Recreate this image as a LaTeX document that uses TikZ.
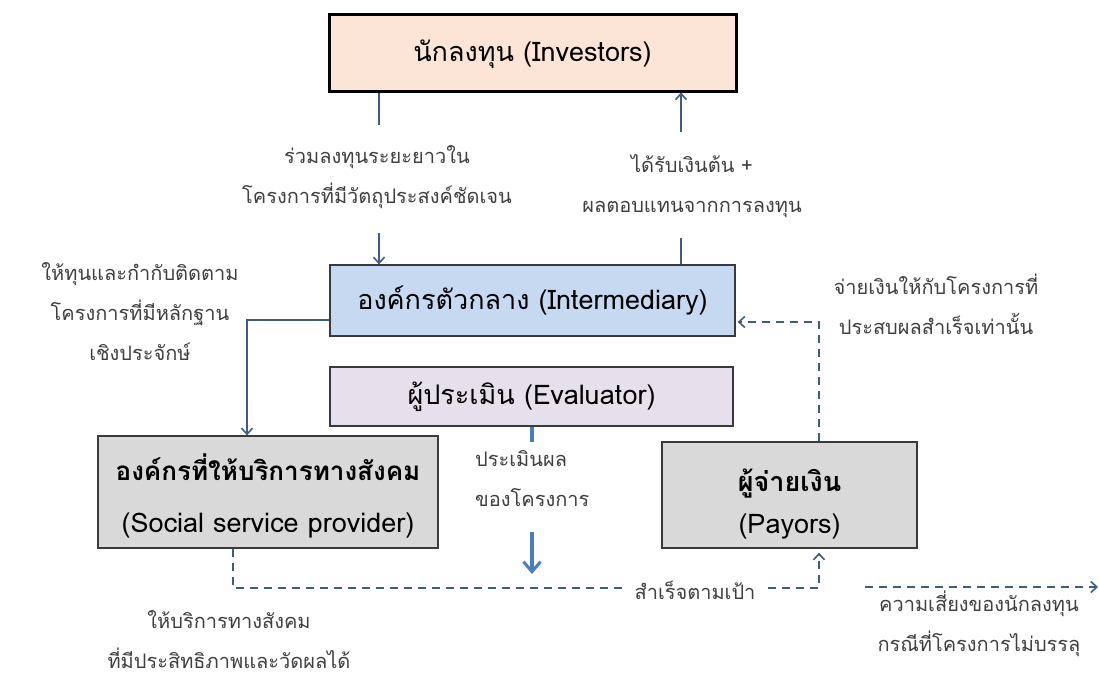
\documentclass[tikz,border=0pt]{standalone}
\usepackage{fontspec}
\setmainfont[Script=Thai]{Loma}
\usetikzlibrary{arrows.meta}
\definecolor{conncol}{HTML}{3E5C86}
\definecolor{thickcol}{HTML}{4A7DBD}
\definecolor{invfill}{HTML}{FCE4D6}
\definecolor{midfill}{HTML}{C6D9F0}
\definecolor{evafill}{HTML}{E5E0EC}
\definecolor{grayfill}{HTML}{D9D9D9}
\definecolor{boxline}{HTML}{3A3A3A}
\definecolor{lblcol}{HTML}{3F3F3F}
\tikzset{
  box/.style={draw=boxline, line width=1.3pt, inner sep=0pt, align=center, text=black,
    font=\fontsize{27}{52}\selectfont},
  lbl/.style={inner sep=0pt, align=center, text=lblcol, font=\fontsize{20}{40}\selectfont},
  conn/.style={draw=conncol, line width=1.8pt},
  tip/.style={-{Straight Barb[length=6pt,width=11pt,line width=1.6pt]}},
  dconn/.style={conn, dash pattern=on 8pt off 6pt},
  thickarrow/.style={draw=thickcol, line width=3.5pt, -{Straight Barb[length=10pt,width=17pt,line width=3pt]}}
}
\begin{document}
\begin{tikzpicture}[x=1pt,y=-1pt]
\useasboundingbox (0,0) rectangle (1099,681);
% boxes
\node[box, fill=invfill, draw=black, line width=3pt, minimum width=407pt, minimum height=77pt] (inv) at (532.5,52.5) {\rule{0pt}{26pt}นักลงทุน (Investors)};
\node[box, fill=midfill, minimum width=405pt, minimum height=71pt] (mid) at (532.5,300.5) {องค์กรตัวกลาง (Intermediary)};
\node[box, fill=evafill, minimum width=403pt, minimum height=59pt] (eva) at (531.5,396.5) {ผู้ประเมิน (Evaluator)};
\node[box, fill=grayfill, minimum width=340pt, minimum height=112pt] (ssp) at (268,492) {\rule{0pt}{34pt}{\bfseries\fontsize{26}{52}\selectfont องค์กรที่ให้บริการทางสังคม}\\(Social service provider)};
\node[box, fill=grayfill, minimum width=255pt, minimum height=106pt, font=\fontsize{27}{42}\selectfont] (pay) at (789.5,495) {\rule{0pt}{40pt}{\bfseries ผู้จ่ายเงิน}\\(Payors)};
% labels
\node[lbl] (l1) at (377,177) {ร่วมลงทุนระยะยาวใน\\โครงการที่มีวัตถุประสงค์ชัดเจน};
\node[lbl] (l2) at (692,186) {ได้รับเงินต้น +\\ผลตอบแทนจากการลงทุน};
\node[lbl] (l3) at (140,312) {ให้ทุนและกำกับติดตาม\\โครงการที่มีหลักฐาน\\เชิงประจักษ์};
\node[lbl] (l4) at (936,304) {จ่ายเงินให้กับโครงการที่\\ประสบผลสำเร็จเท่านั้น};
\node[lbl, align=left, anchor=west] (l5) at (475,479) {ประเมินผล\\ของโครงการ};
\node[lbl] (l6) at (695,590) {สำเร็จตามเป้า};
\node[lbl] (l7) at (229,640) {ให้บริการทางสังคม\\ที่มีประสิทธิภาพและวัดผลได้};
\node[lbl] (l8) at (979,624) {ความเสี่ยงของนักลงทุน\\กรณีที่โครงการไม่บรรลุ};
% helper coordinates
\coordinate (a1) at (379,125);
\coordinate (a2) at (379,233);
\coordinate (b1) at (681,238);
\coordinate (b2) at (681,132);
\coordinate (c1) at (247,320);
\coordinate (d1) at (532,442);
\coordinate (d2) at (532,532);
\coordinate (d3) at (532,574);
\coordinate (e1) at (233,588);
\coordinate (e2) at (626,588);
\coordinate (e3) at (768,588);
\coordinate (e4) at (819,588);
\coordinate (f1) at (819,322);
\coordinate (g1) at (865,587);
\coordinate (g2) at (1098,587);
% connectors
\draw[conn] (inv.south -| a1) -- (a1);
\draw[conn,tip] (a2) -- (mid.north -| a2);
\draw[conn] (mid.north -| b1) -- (b1);
\draw[conn,tip] (b2) -- (inv.south -| b2);
\draw[conn,tip] (mid.west |- c1) -- (c1) -- (ssp.north -| c1);
\draw[draw=thickcol, line width=3.5pt] (eva.south -| d1) -- (d1);
\draw[thickarrow] (d2) -- (d3);
\draw[dconn] (ssp.south -| e1) -- (e1) -- (e2);
\draw[dconn,tip] (e3) -- (e4) -- ([yshift=-4pt]pay.south -| e4);
\draw[dconn,tip] (pay.north -| f1) -- (f1) -- ([xshift=2pt]mid.east |- f1);
\draw[dconn,tip] (g1) -- (g2);
\end{tikzpicture}
\end{document}
